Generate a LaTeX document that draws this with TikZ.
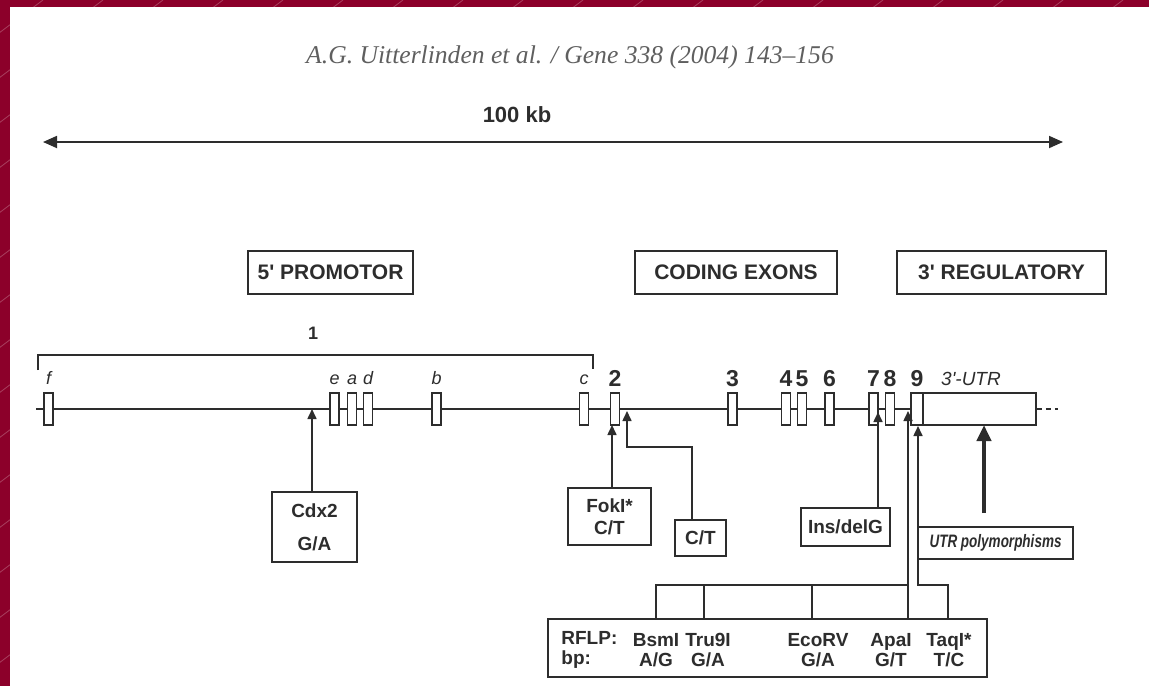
\documentclass[tikz,border=0pt]{standalone}
\usepackage{fontspec}
\setmainfont{Liberation Serif}
\newfontfamily\figsans{Liberation Sans}
\newfontfamily\narrowsans[FakeStretch=0.75]{Liberation Sans}
\usetikzlibrary{arrows.meta,positioning,backgrounds}
\definecolor{slidered}{RGB}{140,0,42}
\definecolor{inkgray}{RGB}{45,45,45}
\definecolor{titlegray}{RGB}{95,95,95}

\begin{document}
\begin{tikzpicture}[
  x=0.5pt, y=-0.5pt,
  every node/.style={text=inkgray},
  line/.style={draw=inkgray, line width=0.9pt},
  hdr/.style={draw=inkgray, line width=0.9pt, minimum height=21.5pt, inner sep=0pt, font=\figsans\bfseries\fontsize{10.5}{12}\selectfont},
  exon/.style={draw=inkgray, fill=white, line width=0.9pt, minimum width=4.5pt, minimum height=16pt, inner sep=0pt},
  exlbl/.style={font=\figsans\itshape\fontsize{9}{10}\selectfont, inner sep=0pt, above=3.5pt of #1},
  exnum/.style={font=\figsans\bfseries\fontsize{11.5}{12}\selectfont, inner sep=0pt, above=2.5pt of #1},
  snp/.style={draw=inkgray, line width=0.9pt, inner sep=0pt, align=center, font=\figsans\bfseries\fontsize{9.5}{11}\selectfont},
  rtxt/.style={inner sep=0pt, font=\figsans\bfseries\fontsize{9.5}{10}\selectfont},
  ptr/.style={draw=inkgray, line width=0.8pt, -{Triangle[length=5pt,width=4.5pt]}},
  bigptr/.style={draw=inkgray, line width=2.2pt, -{Triangle[length=8pt,width=7pt]}},
  span/.style={draw=inkgray, line width=0.9pt, {Triangle[length=7pt,width=6pt]}-{Triangle[length=7pt,width=6pt]}},
  stripe/.style={draw=white, opacity=0.25, line width=0.4pt}
]
  \useasboundingbox (0,0) rectangle (1149,686);
  % slide frame
  \begin{scope}[on background layer]
    \fill[slidered] (0,0) rectangle (1149,686);
    \fill[white] (10,7) rectangle (1149,686);
    \begin{scope}
      \clip (0,0) rectangle (1149,7) (0,0) rectangle (10,686);
      \foreach \k in {0,...,19}
        \draw[stripe] (43+60*\k,0) -- ++(-1000,750);
    \end{scope}
  \end{scope}

  % citation and scale
  \node[font=\itshape\fontsize{12.8}{15}\selectfont, text=titlegray] (cite) at (570,57) {A.G. Uitterlinden et al. / Gene 338 (2004) 143--156};
  \node[font=\figsans\bfseries\fontsize{11}{13}\selectfont] (kb) at (517,115) {100 kb};
  \coordinate (kbl) at (43,142);
  \coordinate (kbr) at (1063,142);
  \draw[span] (kbl) -- (kbr);

  % regions
  \node[hdr, minimum width=82.5pt] (prom) at (330.5,272.5) {5' PROMOTOR};
  \node[hdr, minimum width=101pt] (coding) at (736,272.5) {CODING EXONS};
  \node[hdr, minimum width=104.5pt] (reg) at (1001.5,272.5) {3' REGULATORY};

  % exons
  \foreach \nm/\xx in {f/48.5, e/334.5, a/352, d/368, b/436.5, c/584}{
    \node[exon] (x\nm) at (\xx,409) {};
    \node[exlbl=x\nm] {\nm};
  }
  \foreach \nm/\xx in {2/615, 3/732.5, 4/786, 5/802, 6/829.5, 7/873.5, 8/890}{
    \node[exon] (x\nm) at (\xx,409) {};
    \node[exnum=x\nm] {\nm};
  }
  \node[exon, minimum width=6pt] (x9) at (917,409) {};
  \node[exnum=x9] {9};
  \node[exon, minimum width=56.5pt] (utr) at (979.5,409) {};
  \node[font=\figsans\itshape\fontsize{9.5}{11}\selectfont, inner sep=0pt] (utrlbl) at (971,379) {3'-UTR};

  % gene line
  \coordinate (gstart) at (36,409);
  \coordinate (gtail) at (1058,409);
  \begin{scope}[on background layer]
    \draw[line] (gstart) -- (utr.west);
  \end{scope}
  \draw[line, dash pattern=on 2.5pt off 2pt] (utr.east) -- (gtail);

  % exon 1 bracket
  \coordinate (brl) at (38,370);
  \coordinate (brr) at (593,369);
  \draw[line] (brl) -- ++(0,-15) -| (brr);
  \node[font=\figsans\bfseries\fontsize{9}{10}\selectfont] (one) at (313,333) {1};

  % polymorphisms
  \node[snp, minimum width=42.5pt, minimum height=35pt, font=\figsans\bfseries\fontsize{9.5}{16.5}\selectfont] (cdx) at (314.5,527) {Cdx2\\G/A};
  \node[snp, minimum width=41.5pt, minimum height=28.5pt] (fok) at (609.5,516.5) {FokI*\\C/T};
  \node[snp, minimum width=25.5pt, minimum height=18pt] (ct) at (700.5,538) {C/T};
  \node[snp, minimum width=44.5pt, minimum height=19pt] (ins) at (845.5,527) {Ins/delG};
  \node[snp, minimum width=77.5pt, minimum height=16pt, font=\narrowsans\bfseries\itshape\fontsize{9}{10}\selectfont] (utrp) at (995.5,543) {UTR polymorphisms};

  \coordinate (pcdx) at (312,409);
  \coordinate (pfok) at (612,425);
  \coordinate (ctk) at (692,447);
  \coordinate (pct) at (627,411);
  \coordinate (pins) at (878,412);
  \coordinate (utrtail) at (984,513);
  \coordinate (putr) at (984,425);
  \draw[ptr] (cdx.north -| pcdx) -- (pcdx);
  \draw[ptr] (fok.north -| pfok) -- (pfok);
  \draw[ptr] (ct.north -| ctk) -- (ctk) -| (pct);
  \draw[ptr] (ins.north -| pins) -- (pins);
  \draw[bigptr] (utrtail) -- (putr);

  % RFLP box
  \node[draw=inkgray, line width=0.9pt, minimum width=219.5pt, minimum height=29pt, inner sep=0pt] (rflp) at (767.5,648) {};
  \node[rtxt, anchor=west, align=left] (rlab) at (561,650) {RFLP:\\bp:};
  \node[rtxt, align=center] (bsm) at (656,650) {BsmI\\A/G};
  \node[rtxt, align=center] (tru) at (708,650) {Tru9I\\G/A};
  \node[rtxt, align=center] (eco) at (818,650) {EcoRV\\G/A};
  \node[rtxt, align=center] (apa) at (891,650) {ApaI\\G/T};
  \node[rtxt, align=center] (taq) at (949,650) {TaqI*\\T/C};

  \coordinate (cbsm) at (656,585);
  \coordinate (ctru) at (704,585);
  \coordinate (ceco) at (812,585);
  \coordinate (capa) at (908,585);
  \coordinate (ctaq) at (948,585);
  \coordinate (taqk) at (918,585);
  \coordinate (papa) at (908,411);
  \coordinate (ptaq) at (918,426);
  \draw[line] (cbsm |- rflp.north) -- (cbsm) -- (capa);
  \draw[line] (ctru |- rflp.north) -- (ctru);
  \draw[line] (ceco |- rflp.north) -- (ceco);
  \draw[ptr] (capa |- rflp.north) -- (papa);
  \draw[ptr] (ctaq |- rflp.north) -- (ctaq) -- (taqk) -- (ptaq);
\end{tikzpicture}
\end{document}
